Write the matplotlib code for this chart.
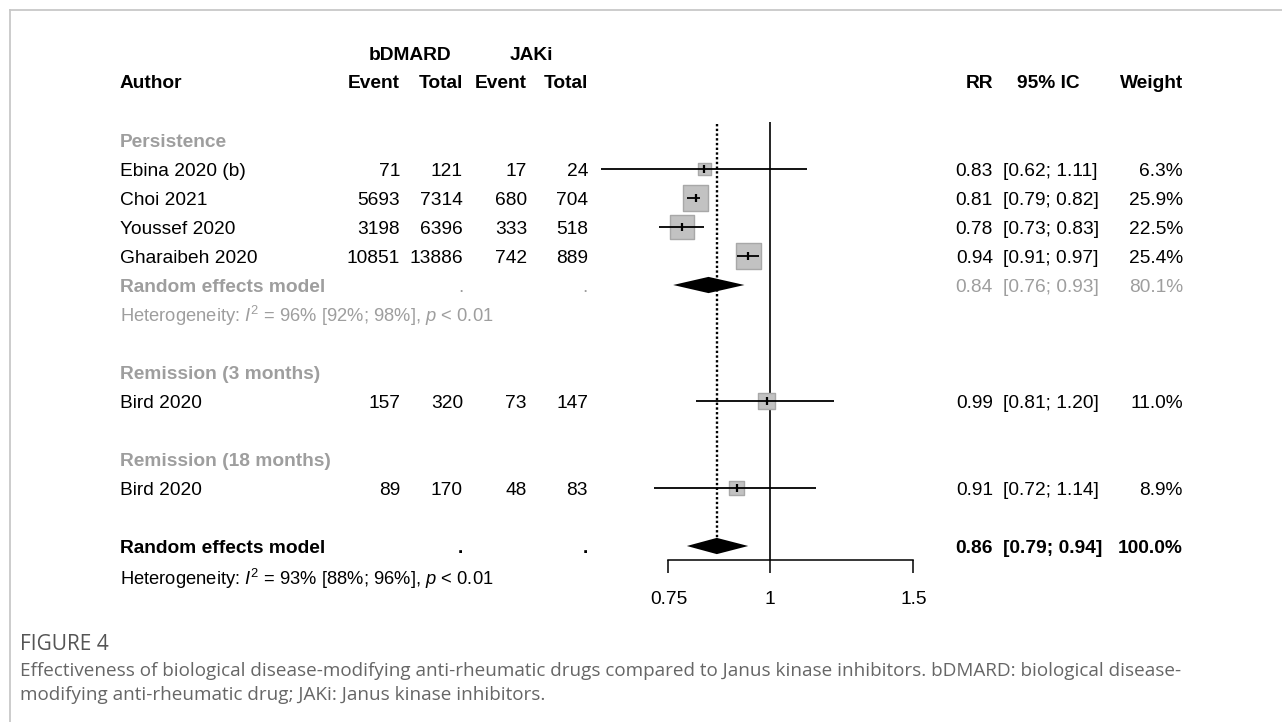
import matplotlib
matplotlib.use("Agg")
import matplotlib.pyplot as plt
from matplotlib.lines import Line2D
from matplotlib.ticker import FixedLocator, NullLocator, FixedFormatter

# ---------------- data ----------------
group_labels = ["Persistence", "Remission (3 months)", "Remission (18 months)"]
study_labels = ["Ebina 2020 (b)", "Choi 2021", "Youssef 2020", "Gharaibeh 2020",
                "Bird 2020", "Bird 2020"]
study_group = [0, 0, 0, 0, 1, 2]
bdmard_event = [71, 5693, 3198, 10851, 157, 89]
bdmard_total = [121, 7314, 6396, 13886, 320, 170]
jaki_event = [17, 680, 333, 742, 73, 48]
jaki_total = [24, 704, 518, 889, 147, 83]
rr = [0.83, 0.81, 0.78, 0.94, 0.99, 0.91]
ci_low = [0.62, 0.79, 0.73, 0.91, 0.81, 0.72]
ci_high = [1.11, 0.82, 0.83, 0.97, 1.20, 1.14]
weight = [6.3, 25.9, 22.5, 25.4, 11.0, 8.9]

# pooled estimate within the Persistence subgroup
sub_rr, sub_low, sub_high, sub_weight = 0.84, 0.76, 0.93, 80.1
sub_i2, sub_i2_low, sub_i2_high = 96, 92, 98

# overall pooled estimate
overall_rr, overall_low, overall_high, overall_weight = 0.86, 0.79, 0.94, 100.0
overall_i2, overall_i2_low, overall_i2_high = 93, 88, 96

x_ticks = [0.75, 1, 1.5]
x_tick_labels = ["0.75", "1", "1.5"]

# ---------------- layout ----------------
W, H = 1282, 722
ROW_PX, ROW0_PX = 29.0, 140.0          # row height and y of first row (pixels)
Y_BOTTOM = (H - ROW0_PX) / ROW_PX
Y_TOP = -ROW0_PX / ROW_PX
AXIS_ROW = (560 - ROW0_PX) / ROW_PX
BASE = 0.235                           # baseline offset of text below row centre

FONT = "Liberation Sans"
FS = 13.8
FS_HET = 13.2
GREY = "#9e9e9e"

plt.rcParams["mathtext.fontset"] = "custom"
plt.rcParams["mathtext.rm"] = FONT
plt.rcParams["mathtext.it"] = FONT + ":italic"
plt.rcParams["mathtext.bf"] = FONT + ":bold"

fig = plt.figure(figsize=(W / 100, H / 100), dpi=100)
fig.patch.set_facecolor("white")

# text layer in pixel-x / row-y coordinates
tx = fig.add_axes([0, 0, 1, 1])
tx.set_xlim(0, W)
tx.set_ylim(Y_BOTTOM, Y_TOP)
tx.axis("off")

# forest panel on a log scale
ax = fig.add_axes([580 / W, 0, 360 / W, 1])
ax.set_xscale("log")
ax.set_xlim(0.5838, 1.6178)
ax.set_ylim(Y_BOTTOM, Y_TOP)
ax.patch.set_visible(False)
for s in ("top", "left", "right"):
    ax.spines[s].set_visible(False)
ax.spines["bottom"].set_position(("data", AXIS_ROW))
ax.spines["bottom"].set_bounds(x_ticks[0], x_ticks[-1])
ax.spines["bottom"].set_linewidth(1.1)
ax.yaxis.set_visible(False)
ax.xaxis.set_major_locator(FixedLocator(x_ticks))
ax.xaxis.set_minor_locator(NullLocator())
ax.xaxis.set_major_formatter(FixedFormatter(x_tick_labels))
ax.tick_params(axis="x", direction="out", length=9.5, width=1.1, pad=13,
               labelsize=FS, labelcolor="black")
for lab in ax.get_xticklabels():
    lab.set_fontfamily(FONT)


def put(x, row, s, ha="left", color="black", bold=False, size=FS):
    tx.text(x, row + BASE, s, ha=ha, va="baseline", color=color,
            fontsize=size, fontfamily=FONT,
            fontweight="bold" if bold else "normal")


# column positions (pixels)
X_LABEL = 120
X_BE, X_BT, X_JE, X_JT = 400, 463, 527, 588
X_RR, X_CI, X_W = 993, 1003, 1183

# headers
put(410, -3.0, "bDMARD", ha="center", bold=True)
put(531, -3.0, "JAKi", ha="center", bold=True)
put(X_LABEL, -2.03, "Author", bold=True)
for xc, name in ((X_BE, "Event"), (X_BT, "Total"), (X_JE, "Event"), (X_JT, "Total")):
    put(xc, -2.03, name, ha="right", bold=True)
put(X_RR, -2.03, "RR", ha="right", bold=True)
put(1048, -2.03, "95% IC", ha="center", bold=True)
put(X_W, -2.03, "Weight", ha="right", bold=True)

# row assignment
group_rows = [0, 8, 11]
study_rows = [1, 2, 3, 4, 9, 12]
sub_row, sub_het_row = 5, 6.05
overall_row, overall_het_row = 14, 15.1

for g, r in zip(group_labels, group_rows):
    put(X_LABEL, r, g, color=GREY, bold=True)

for i, r in enumerate(study_rows):
    put(X_LABEL, r, study_labels[i])
    put(X_BE, r, f"{bdmard_event[i]}", ha="right")
    put(X_BT, r, f"{bdmard_total[i]}", ha="right")
    put(X_JE, r, f"{jaki_event[i]}", ha="right")
    put(X_JT, r, f"{jaki_total[i]}", ha="right")
    put(X_RR, r, f"{rr[i]:.2f}", ha="right")
    put(X_CI, r, f"[{ci_low[i]:.2f}; {ci_high[i]:.2f}]")
    put(X_W, r, f"{weight[i]:.1f}%", ha="right")

# subgroup pooled row
put(X_LABEL, sub_row, "Random effects model", color=GREY, bold=True)
put(X_BT, sub_row, ".", ha="right", color=GREY)
put(X_JT, sub_row, ".", ha="right", color=GREY)
put(X_RR, sub_row, f"{sub_rr:.2f}", ha="right", color=GREY)
put(X_CI, sub_row, f"[{sub_low:.2f}; {sub_high:.2f}]", color=GREY)
put(X_W, sub_row, f"{sub_weight:.1f}%", ha="right", color=GREY)
put(X_LABEL, sub_het_row,
    f"Heterogeneity: $I^2$ = {sub_i2}% [{sub_i2_low}%; {sub_i2_high}%], $p$ < 0.01",
    color=GREY, size=FS_HET)

# overall pooled row
put(X_LABEL, overall_row, "Random effects model", bold=True)
put(X_BT, overall_row, ".", ha="right", bold=True)
put(X_JT, overall_row, ".", ha="right", bold=True)
put(X_RR, overall_row, f"{overall_rr:.2f}", ha="right", bold=True)
put(X_CI, overall_row, f"[{overall_low:.2f}; {overall_high:.2f}]", bold=True)
put(X_W, overall_row, f"{overall_weight:.1f}%", ha="right", bold=True)
put(X_LABEL, overall_het_row,
    f"Heterogeneity: $I^2$ = {overall_i2}% [{overall_i2_low}%; {overall_i2_high}%], $p$ < 0.01",
    size=FS_HET)

# ---------------- forest marks ----------------
# reference line at no effect and dotted line at the pooled estimate
ax.vlines(1, -0.62, AXIS_ROW, color="black", lw=1.2, zorder=2)
ax.vlines(overall_rr, -0.55, overall_row - 0.28, color="black", lw=1.7,
          linestyles=(0, (1.0, 1.0)), zorder=2)

# weighted squares
ax.scatter(rr, study_rows, s=[13 * w for w in weight], marker="s",
           facecolor="#c2c2c2", edgecolor="#a8a8a8", linewidths=1.0, zorder=3)
# confidence intervals and estimate ticks
ax.hlines(study_rows, ci_low, ci_high, color="black", lw=1.3, zorder=4)
ax.plot(rr, study_rows, ls="none", marker="|", ms=6, mew=1.6, color="black", zorder=5)

# pooled diamonds
DH = 0.28
ax.fill([sub_low, sub_rr, sub_high, sub_rr],
        [sub_row, sub_row - DH, sub_row, sub_row + DH], color="black", lw=0, zorder=4)
ax.fill([overall_low, overall_rr, overall_high, overall_rr],
        [overall_row, overall_row - DH, overall_row, overall_row + DH],
        color="black", lw=0, zorder=4)

# ---------------- frame and caption ----------------
fig.add_artist(Line2D([9.5 / W, 9.5 / W], [0, 1 - 9.5 / H], transform=fig.transFigure,
                      color="#c8c8c8", lw=1.3))
fig.add_artist(Line2D([9.5 / W, 1], [1 - 9.5 / H, 1 - 9.5 / H], transform=fig.transFigure,
                      color="#c8c8c8", lw=1.3))

CAP_FONT = "Open Sans"
fig.text(20 / W, 1 - 644 / H, "FIGURE 4", ha="left", va="center",
         fontsize=15, color="#555555", fontfamily=CAP_FONT)
fig.text(20 / W, 1 - 671 / H,
         "Effectiveness of biological disease-modifying anti-rheumatic drugs compared to "
         "Janus kinase inhibitors. bDMARD: biological disease-",
         ha="left", va="center", fontsize=13.6, color="#666666", fontfamily=CAP_FONT)
fig.text(20 / W, 1 - 695 / H,
         "modifying anti-rheumatic drug; JAKi: Janus kinase inhibitors.",
         ha="left", va="center", fontsize=13.6, color="#666666", fontfamily=CAP_FONT)

fig.savefig("out.png", dpi=100, facecolor="white")
